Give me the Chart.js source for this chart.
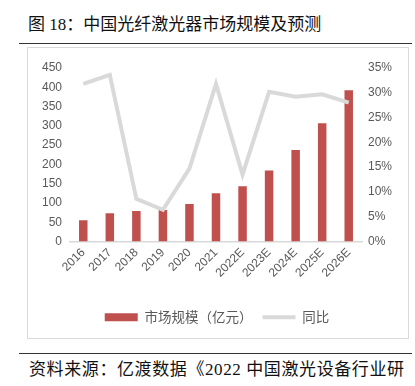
<!DOCTYPE html>
<html>
<head>
<meta charset="utf-8">
<script src="https://cdn.jsdelivr.net/npm/chart.js@4"></script>
<style>
  body { margin: 0; background: #fff; width: 415px; height: 386px; position: relative; overflow: hidden; }
  .title { position: absolute; left: 28px; top: 10px; font: 17px "Liberation Serif", "Noto Sans CJK SC"; color: #111; white-space: nowrap; }
  .rule { position: absolute; left: 19px; width: 393px; height: 1px; background: #333; }
  .box { position: absolute; left: 27px; top: 47px; width: 380px; height: 290px; border: 1px solid #d9d9d9; }
  .source { position: absolute; left: 29px; top: 355px; font: 17px "Liberation Serif", "Noto Sans CJK SC"; letter-spacing: 0.6px; color: #111; white-space: nowrap; }
</style>
</head>
<body>
<div class="title">图 18：中国光纤激光器市场规模及预测</div>
<div class="rule" style="top:43px"></div>
<div class="box"><canvas id="myChart" width="380" height="290"></canvas></div>
<div class="rule" style="top:353px"></div>
<div class="source">资料来源：亿渡数据《2022 中国激光设备行业研</div>
<script>
const years = ["2016", "2017", "2018", "2019", "2020", "2021", "2022E", "2023E", "2024E", "2025E", "2026E"];
const marketSize = [55, 73, 79, 82, 97, 125, 143, 184, 237, 307, 392];
const yoy = [31.8, 33.6, 8.6, 6.4, 14.7, 31.8, 13.5, 30.2, 29.2, 29.7, 28.0];
const leftTicks = [0, 450, 50];
const rightTicks = [0, 35, 5];

const tickFont = { family: "Liberation Sans", size: 12 };
const ctx = document.getElementById("myChart").getContext("2d");
const chart = new Chart(ctx, {
  type: "bar",
  data: {
    labels: years,
    datasets: [
      {
        type: "line",
        label: "同比",
        data: yoy,
        yAxisID: "y1",
        borderColor: "#d9d9d9",
        backgroundColor: "#d9d9d9",
        borderWidth: 4,
        pointRadius: 0,
        pointStyle: "line",
        tension: 0,
        order: 0
      },
      {
        label: "市场规模（亿元）",
        data: marketSize,
        yAxisID: "y",
        backgroundColor: "#c0504d",
        borderWidth: 0,
        barPercentage: 0.32,
        categoryPercentage: 1,
        pointStyle: "rect",
        order: 1
      }
    ]
  },
  options: {
    responsive: false,
    devicePixelRatio: 1,
    animation: false,
    layout: { padding: { top: 20, right: 6, left: 4, bottom: 4 } },
    plugins: {
      tooltip: { enabled: false },
      legend: {
        position: "bottom",
        reverse: true,
        labels: {
          usePointStyle: true,
          pointStyleWidth: 33,
          boxHeight: 8,
          color: "#595959",
          font: { family: "Noto Sans CJK SC", size: 13.5 },
          padding: 10
        }
      }
    },
    scales: {
      x: {
        grid: { display: false, drawTicks: false },
        border: { display: true, color: "#d9d9d9", width: 1.5 },
        ticks: { color: "#595959", font: tickFont, maxRotation: 45, minRotation: 45, padding: 4 },
        afterFit: s => { s.height = 59; }
      },
      y: {
        position: "left",
        min: leftTicks[0],
        max: leftTicks[1],
        grid: { display: false, drawTicks: false },
        border: { display: false },
        ticks: { stepSize: leftTicks[2], color: "#595959", font: tickFont, padding: 8 },
        afterFit: s => { s.width = 38; }
      },
      y1: {
        position: "right",
        min: rightTicks[0],
        max: rightTicks[1],
        grid: { display: false, drawTicks: false },
        border: { display: false },
        ticks: { stepSize: rightTicks[2], color: "#595959", font: tickFont, padding: 6, callback: v => v + "%" },
        afterFit: s => { s.width = 40; }
      }
    }
  }
});
</script>
</body>
</html>
